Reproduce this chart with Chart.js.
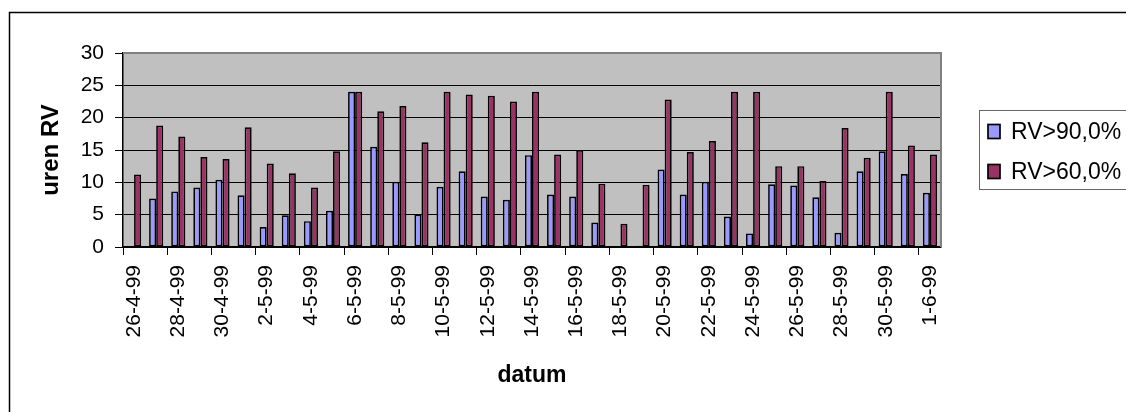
<!DOCTYPE html>
<html>
<head>
<meta charset="utf-8">
<script src="https://cdn.jsdelivr.net/npm/chart.js@4/dist/chart.umd.min.js"></script>
<style>
  html, body { margin: 0; padding: 0; background: #fff; }
  canvas { display: block; }
</style>
</head>
<body>
<canvas id="c" width="1126" height="412"></canvas>
<script>
// Daily dates, 26 April – 1 June 1999
const categories = [
  '26-4-99', '27-4-99', '28-4-99', '29-4-99', '30-4-99',
  '1-5-99', '2-5-99', '3-5-99', '4-5-99', '5-5-99', '6-5-99', '7-5-99',
  '8-5-99', '9-5-99', '10-5-99', '11-5-99', '12-5-99', '13-5-99', '14-5-99',
  '15-5-99', '16-5-99', '17-5-99', '18-5-99', '19-5-99', '20-5-99', '21-5-99',
  '22-5-99', '23-5-99', '24-5-99', '25-5-99', '26-5-99', '27-5-99', '28-5-99',
  '29-5-99', '30-5-99', '31-5-99', '1-6-99'
];

// Hours per day with relative humidity above 90 %
const rv90 = [
  0.15, 7.5, 8.6, 9.2, 10.4,
  8.0, 3.1, 4.9, 4.0, 5.6, 24.0, 15.5,
  10.1, 5.0, 9.3, 11.7, 7.8, 7.3, 14.2,
  8.1, 7.8, 3.8, 0, 0.2, 12.0, 8.1,
  10.1, 4.7, 2.1, 9.7, 9.5, 7.7, 2.2,
  11.7, 14.8, 11.3, 8.4
];

// Hours per day with relative humidity above 60 %
const rv60 = [
  11.2, 18.8, 17.1, 13.9, 13.6,
  18.5, 12.9, 11.4, 9.2, 14.8, 24.0, 21.0,
  21.8, 16.2, 24.0, 23.6, 23.4, 22.5, 24.0,
  14.3, 15.0, 9.8, 3.6, 9.6, 22.8, 14.7,
  16.4, 24.0, 24.0, 12.5, 12.5, 10.2, 18.4,
  13.8, 24.0, 15.7, 14.3
];

const seriesNames = ['RV>90,0%', 'RV>60,0%'];
const yMin = 0, yMax = 30, yStep = 5;
const xTitle = 'datum';
const yTitle = 'uren RV';

const FONT = '"Liberation Sans", Arial, sans-serif';
Chart.defaults.font.family = FONT;
Chart.defaults.color = '#000';

// Grey plot background, plot frame and the outer chart border
const frame = {
  id: 'frame',
  beforeDraw(chart) {
    const { ctx, chartArea: a } = chart;
    ctx.save();
    ctx.fillStyle = '#fff';
    ctx.fillRect(0, 0, chart.width, chart.height);
    ctx.fillStyle = '#C0C0C0';
    ctx.fillRect(a.left, a.top, a.right - a.left, a.bottom - a.top);
    ctx.restore();
  },
  afterDraw(chart) {
    const { ctx, chartArea: a } = chart;
    ctx.save();
    ctx.strokeStyle = '#808080';
    ctx.lineWidth = 2;
    ctx.beginPath();
    ctx.moveTo(a.left, a.top);
    ctx.lineTo(a.right, a.top);
    ctx.lineTo(a.right, a.bottom);
    ctx.stroke();
    ctx.strokeStyle = '#000';
    ctx.lineWidth = 1.5;
    ctx.beginPath();
    ctx.moveTo(9.5, chart.height);
    ctx.lineTo(9.5, 12.5);
    ctx.lineTo(chart.width, 12.5);
    ctx.stroke();
    ctx.restore();
  }
};

// Boxed legend on the right
const legendBox = {
  id: 'legendBox',
  afterDraw(chart) {
    const { ctx } = chart;
    ctx.save();
    ctx.strokeStyle = '#666';
    ctx.lineWidth = 1;
    ctx.strokeRect(979.5, 110.5, 150, 79);
    ctx.font = '23px ' + FONT;
    ctx.textBaseline = 'middle';
    chart.data.datasets.forEach((ds, i) => {
      const cy = 131.5 + i * 40;
      ctx.fillStyle = ds.backgroundColor;
      ctx.fillRect(988, cy - 7, 12, 14);
      ctx.strokeStyle = '#000';
      ctx.lineWidth = 1.7;
      ctx.strokeRect(988, cy - 7, 12, 14);
      ctx.fillStyle = '#000';
      ctx.fillText(ds.label, 1011, cy + 1);
    });
    ctx.restore();
  }
};

new Chart(document.getElementById('c'), {
  type: 'bar',
  data: {
    labels: categories,
    datasets: [
      {
        label: seriesNames[0],
        data: rv90,
        backgroundColor: '#9999FF',
        borderColor: '#000',
        borderWidth: 1.7,
        borderSkipped: false
      },
      {
        label: seriesNames[1],
        data: rv60,
        backgroundColor: '#993366',
        borderColor: '#000',
        borderWidth: 1.7,
        borderSkipped: false
      }
    ]
  },
  options: {
    responsive: false,
    animation: false,
    devicePixelRatio: 1,
    layout: { padding: { left: 0, top: 53, right: 185, bottom: 0 } },
    datasets: { bar: { categoryPercentage: 0.64, barPercentage: 1 } },
    plugins: {
      legend: { display: false },
      tooltip: { enabled: false }
    },
    scales: {
      x: {
        offset: true,
        grid: {
          offset: true,
          drawOnChartArea: false,
          drawTicks: true,
          tickLength: 8,
          lineWidth: 1,
          color: (c) => (c.index % 2 === 0 ? '#000' : 'rgba(0,0,0,0)')
        },
        border: { display: true, color: '#000', width: 1.5 },
        ticks: {
          autoSkip: false,
          minRotation: 90,
          maxRotation: 90,
          padding: 10,
          color: '#000',
          font: { family: '"Liberation Sans Narrow", ' + FONT, size: 21 },
          callback: (v, i) => (i % 2 === 0 ? categories[i] : '')
        },
        title: {
          display: true,
          text: xTitle,
          color: '#000',
          font: { size: 23, weight: 'bold' },
          padding: { top: 0, bottom: 23 }
        },
        afterFit: (s) => { s.height = 165; }
      },
      y: {
        min: yMin,
        max: yMax,
        ticks: {
          stepSize: yStep,
          padding: 11,
          color: '#000',
          font: { size: 21 }
        },
        grid: {
          lineWidth: 1,
          tickLength: 8,
          tickColor: '#000',
          color: (c) => (c.tick && c.tick.value === yMax ? '#808080' : '#000')
        },
        border: { display: true, color: '#000', width: 1.5 },
        title: {
          display: true,
          text: yTitle,
          color: '#000',
          font: { size: 24, weight: 'bold' },
          padding: { top: 37, bottom: 0 }
        },
        afterFit: (s) => { s.width = 123; }
      }
    }
  },
  plugins: [frame, legendBox]
});
</script>
</body>
</html>
